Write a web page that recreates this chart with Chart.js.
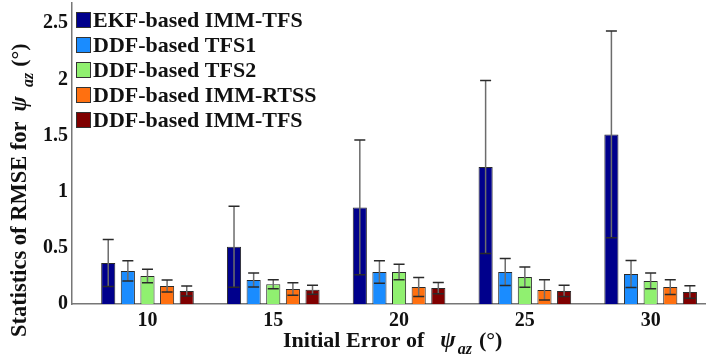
<!DOCTYPE html>
<html>
<head>
<meta charset="utf-8">
<script src="https://cdn.jsdelivr.net/npm/chart.js@4.4.0/dist/chart.umd.min.js"></script>
<style>
  html, body { margin: 0; padding: 0; background: #fff; }
  #wrap { width: 706px; height: 354px; position: relative; }
</style>
</head>
<body>
<div id="wrap"><canvas id="rmse"></canvas></div>
<script>
// initial error of psi_az (deg)
var initialErrors = [10, 15, 20, 25, 30];
var yTicks = [0, 0.5, 1, 1.5, 2, 2.5];

var seriesNames = ['EKF-based IMM-TFS', 'DDF-based TFS1', 'DDF-based TFS2', 'DDF-based IMM-RTSS', 'DDF-based IMM-TFS'];
var seriesColors = ['#00008c', '#1a8cff', '#90f070', '#ff7010', '#800000'];

// mean RMSE
var ekfImmTfs  = [0.365, 0.51, 0.86, 1.22, 1.51];
var ddfTfs1    = [0.294, 0.214, 0.285, 0.285, 0.267];
var ddfTfs2    = [0.25, 0.175, 0.285, 0.24, 0.205];
var ddfImmRtss = [0.16, 0.133, 0.151, 0.125, 0.151];
var ddfImmTfs  = [0.116, 0.127, 0.142, 0.116, 0.107];

// half length of the error bars
var ekfImmTfsErr  = [0.21, 0.36, 0.6, 0.77, 0.92];
var ddfTfs1Err    = [0.09, 0.063, 0.1, 0.12, 0.12];
var ddfTfs2Err    = [0.06, 0.04, 0.07, 0.09, 0.07];
var ddfImmRtssErr = [0.053, 0.056, 0.085, 0.09, 0.066];
var ddfImmTfsErr  = [0.045, 0.04, 0.05, 0.05, 0.055];

var allValues = [ekfImmTfs, ddfTfs1, ddfTfs2, ddfImmRtss, ddfImmTfs];
var allErrors = [ekfImmTfsErr, ddfTfs1Err, ddfTfs2Err, ddfImmRtssErr, ddfImmTfsErr];

var serif = '"Liberation Serif", "Times New Roman", serif';
Chart.defaults.font.family = serif;
Chart.defaults.font.weight = 'bold';
Chart.defaults.color = '#111';

var datasets = allValues.map(function (vals, i) {
    return {
        label: seriesNames[i],
        data: initialErrors.map(function (x, j) { return { x: x, y: vals[j] }; }),
        err: allErrors[i],
        backgroundColor: seriesColors[i],
        borderColor: '#2a2a2a',
        borderWidth: 1,
        categoryPercentage: 0.78,
        barPercentage: 0.72
    };
});

// error bars, drawn through the y scale
var errorBars = {
    id: 'errorBars',
    afterDatasetsDraw: function (chart) {
        var ctx = chart.ctx, y = chart.scales.y;
        chart.data.datasets.forEach(function (ds, i) {
            chart.getDatasetMeta(i).data.forEach(function (bar, j) {
                var v = ds.data[j].y, e = ds.err[j];
                var top = y.getPixelForValue(v + e), bot = y.getPixelForValue(v - e);
                ctx.save();
                ctx.lineWidth = 1.5;
                ctx.strokeStyle = '#6c6c6c';
                ctx.beginPath();
                ctx.moveTo(bar.x, top);
                ctx.lineTo(bar.x, bot);
                ctx.stroke();
                ctx.strokeStyle = '#2a2a2a';
                ctx.beginPath();
                ctx.moveTo(bar.x - 5.5, top); ctx.lineTo(bar.x + 5.5, top);
                ctx.moveTo(bar.x - 5.5, bot); ctx.lineTo(bar.x + 5.5, bot);
                ctx.stroke();
                ctx.restore();
            });
        });
    }
};

// legend inside the plot, top left
var boxLegend = {
    id: 'boxLegend',
    afterDraw: function (chart) {
        var ctx = chart.ctx, a = chart.chartArea;
        ctx.save();
        ctx.font = 'bold 22px ' + serif;
        ctx.textBaseline = 'middle';
        chart.data.datasets.forEach(function (ds, i) {
            var top = a.top + 9 + i * 25;
            ctx.fillStyle = ds.backgroundColor;
            ctx.fillRect(a.left + 4.5, top + 0.5, 14, 15);
            ctx.strokeStyle = '#333';
            ctx.lineWidth = 1;
            ctx.strokeRect(a.left + 4.5, top + 0.5, 14, 15);
            ctx.fillStyle = '#111';
            ctx.fillText(ds.label, a.left + 21, top + 9);
        });
        ctx.restore();
    }
};

// draw pieces of text one after another (for the psi_az subscript)
function drawParts(ctx, parts) {
    var x = 0;
    parts.forEach(function (p) {
        x += p.gap || 0;
        ctx.font = p.font;
        ctx.fillText(p.text, x, p.dy || 0);
        x += ctx.measureText(p.text).width;
    });
}

var axisTitles = {
    id: 'axisTitles',
    afterDraw: function (chart) {
        var ctx = chart.ctx, a = chart.chartArea;
        var bold = 'bold 22px ' + serif, ital = 'italic bold 23px ' + serif, sub = 'italic bold 16px ' + serif;
        ctx.save();
        ctx.fillStyle = '#111';
        ctx.textBaseline = 'alphabetic';

        ctx.save();
        ctx.translate(a.left + 211, 347);
        drawParts(ctx, [
            { text: 'Initial Error of', font: bold },
            { text: '\u03c8', font: ital, gap: 16 },
            { text: 'az', font: sub, dy: 7, gap: 2 },
            { text: '(\u00b0)', font: bold, gap: 7 }
        ]);
        ctx.restore();

        ctx.save();
        ctx.translate(26, 337);
        ctx.rotate(-Math.PI / 2);
        drawParts(ctx, [
            { text: 'Statistics of RMSE for', font: 'bold 22.5px ' + serif },
            { text: '\u03c8', font: ital, gap: 10 },
            { text: 'az', font: sub, dy: 7, gap: 9 },
            { text: '(\u00b0)', font: bold, gap: 6 }
        ]);
        ctx.restore();
        ctx.restore();
    }
};

var ctx = document.getElementById('rmse').getContext('2d');
var rmseChart = new Chart(ctx, {
    type: 'bar',
    data: { datasets: datasets },
    options: {
        responsive: true,
        maintainAspectRatio: false,
        animation: false,
        layout: { padding: { top: 3, right: 0, bottom: 0, left: 0 } },
        plugins: {
            legend: { display: false },
            tooltip: { enabled: false }
        },
        scales: {
            x: {
                type: 'linear',
                min: 7,
                max: 32.2,
                offset: false,
                grid: { display: false, drawTicks: false, offset: false },
                border: { display: true, color: '#777', width: 1.5 },
                afterBuildTicks: function (scale) {
                    scale.ticks = initialErrors.map(function (v) { return { value: v }; });
                },
                afterFit: function (scale) {
                    scale.height = 50;
                    scale.paddingLeft = 0;
                    scale.paddingRight = 0;
                },
                ticks: {
                    color: '#111',
                    padding: 5,
                    maxRotation: 0,
                    font: { family: serif, size: 20, weight: 'bold' }
                }
            },
            y: {
                min: 0,
                max: 2.68,
                grid: { display: false, drawTicks: false },
                border: { display: true, color: '#777', width: 1.5 },
                afterBuildTicks: function (scale) {
                    scale.ticks = yTicks.map(function (v) { return { value: v }; });
                },
                afterFit: function (scale) {
                    scale.width = 72;
                    scale.paddingTop = 0;
                    scale.paddingBottom = 0;
                },
                ticks: {
                    color: '#111',
                    padding: 4,
                    font: { family: serif, size: 20, weight: 'bold' },
                    callback: function (v) { return String(v); }
                }
            }
        }
    },
    plugins: [errorBars, boxLegend, axisTitles]
});
</script>
</body>
</html>
